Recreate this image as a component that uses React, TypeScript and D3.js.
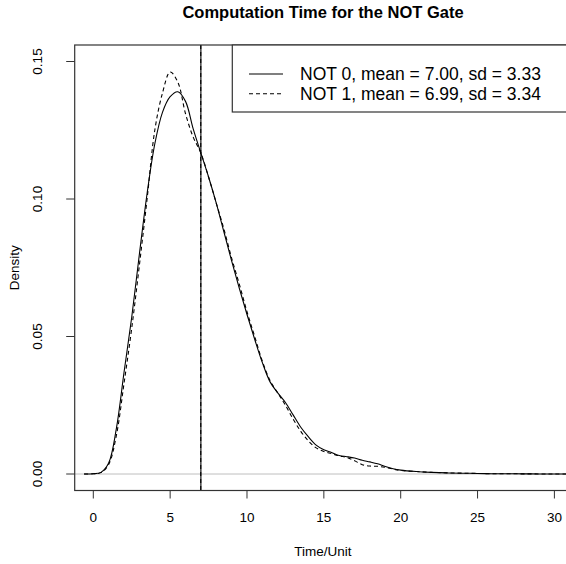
import React, { useRef, useEffect } from "react";
import { select, scaleLinear, line, curveCatmullRom } from "d3";

// density estimates
const timeGrid = [-0.6, 0, 0.5, 1, 1.5, 2, 2.5, 3, 3.5, 4, 4.5, 5, 5.5, 6, 6.5, 7, 7.5, 8, 8.5, 9, 9.5, 10, 10.5, 11, 11.5, 12, 12.5, 13, 13.5, 14, 14.5, 15, 15.5, 16, 16.5, 17, 17.5, 18, 18.5, 19, 19.5, 20, 21, 22, 23, 24, 25, 26, 27, 28, 29, 30, 31.5];
const not0 = [0, 0.0001, 0.0006, 0.004, 0.0165, 0.037, 0.057, 0.08, 0.102, 0.12, 0.1315, 0.1372, 0.139, 0.1355, 0.1255, 0.1167, 0.108, 0.0985, 0.088, 0.0775, 0.0675, 0.058, 0.049, 0.0405, 0.0335, 0.0295, 0.026, 0.0215, 0.017, 0.0135, 0.0105, 0.0088, 0.0078, 0.0067, 0.0063, 0.0058, 0.005, 0.0044, 0.0037, 0.0027, 0.0019, 0.0014, 0.0009, 0.0006, 0.0004, 0.0003, 0.0002, 0.0001, 0.0001, 0.00005, 0.00002, 0, 0];
const not1 = [0, 0.0001, 0.0005, 0.0035, 0.014, 0.033, 0.053, 0.076, 0.1, 0.125, 0.1385, 0.1462, 0.1425, 0.131, 0.1225, 0.1167, 0.108, 0.0985, 0.089, 0.0785, 0.069, 0.059, 0.05, 0.041, 0.034, 0.0295, 0.025, 0.02, 0.0155, 0.012, 0.0095, 0.0082, 0.0074, 0.0066, 0.006, 0.0048, 0.0034, 0.0029, 0.0028, 0.0024, 0.0018, 0.0013, 0.0009, 0.0006, 0.0004, 0.0003, 0.0002, 0.0001, 0.0001, 0.00005, 0.00002, 0, 0];
const means = [7.0, 6.99];
const legendLabels = ["NOT 0, mean = 7.00, sd = 3.33", "NOT 1, mean = 6.99, sd = 3.34"];
const xTicks = [0, 5, 10, 15, 20, 25, 30];
const yTicks = [0, 0.05, 0.1, 0.15];

const font = "'Liberation Sans', Arial, Helvetica, sans-serif";

function App() {
  const svgRef = useRef(null);

  useEffect(() => {
    const svg = select(svgRef.current);
    svg.selectAll("*").remove();

    const left = 74.7, right = 571, top = 45, bottom = 490.5;
    const xscale = scaleLinear().domain([-1.21, 31.08]).range([left, right]);
    const yscale = scaleLinear().domain([-0.006, 0.156]).range([bottom, top]);

    svg.append("text")
      .attr("x", 323).attr("y", 18)
      .attr("text-anchor", "middle")
      .attr("font-family", font).attr("font-weight", "bold").attr("font-size", 16.5)
      .text("Computation Time for the NOT Gate");

    // zero line
    svg.append("line")
      .attr("x1", left).attr("x2", right)
      .attr("y1", yscale(0)).attr("y2", yscale(0))
      .attr("stroke", "#bebebe").attr("stroke-width", 1);

    const dens = line<number>()
      .x((d, i) => xscale(timeGrid[i]))
      .y(d => yscale(d))
      .curve(curveCatmullRom);

    [not0, not1].forEach((s, k) => {
      svg.append("path")
        .attr("d", dens(s))
        .attr("fill", "none")
        .attr("stroke", "black")
        .attr("stroke-width", 1.1)
        .attr("stroke-dasharray", k === 1 ? "4,3" : null);
    });

    means.forEach((m, k) => {
      svg.append("line")
        .attr("x1", xscale(m)).attr("x2", xscale(m))
        .attr("y1", top).attr("y2", bottom)
        .attr("stroke", "black").attr("stroke-width", 1.1)
        .attr("stroke-dasharray", k === 1 ? "4,3" : null);
    });

    // box
    svg.append("rect")
      .attr("x", left).attr("y", top)
      .attr("width", right - left).attr("height", bottom - top)
      .attr("fill", "none").attr("stroke", "#333").attr("stroke-width", 1.2);

    // x axis
    const gx = svg.append("g");
    xTicks.forEach(t => {
      gx.append("line")
        .attr("x1", xscale(t)).attr("x2", xscale(t))
        .attr("y1", bottom).attr("y2", bottom + 8)
        .attr("stroke", "#333");
      gx.append("text")
        .attr("x", xscale(t)).attr("y", 521.5)
        .attr("text-anchor", "middle")
        .attr("font-family", font).attr("font-size", 13.5)
        .text(t);
    });
    svg.append("text")
      .attr("x", 323).attr("y", 556)
      .attr("text-anchor", "middle")
      .attr("font-family", font).attr("font-size", 13.5)
      .text("Time/Unit");

    // y axis
    const gy = svg.append("g");
    yTicks.forEach(t => {
      gy.append("line")
        .attr("x1", left - 8.5).attr("x2", left)
        .attr("y1", yscale(t)).attr("y2", yscale(t))
        .attr("stroke", "#333");
      gy.append("text")
        .attr("transform", `translate(42,${yscale(t)}) rotate(-90)`)
        .attr("text-anchor", "middle")
        .attr("font-family", font).attr("font-size", 13.5)
        .text(t.toFixed(2));
    });
    svg.append("text")
      .attr("transform", `translate(19,${(top + bottom) / 2}) rotate(-90)`)
      .attr("text-anchor", "middle")
      .attr("font-family", font).attr("font-size", 13.5)
      .text("Density");

    // legend
    const lg = svg.append("g");
    lg.append("rect")
      .attr("x", 232.3).attr("y", top)
      .attr("width", right - 232.3).attr("height", 112 - top)
      .attr("fill", "white").attr("stroke", "#333").attr("stroke-width", 1.2);
    legendLabels.forEach((lab, k) => {
      const cy = 74 + k * 19.7;
      lg.append("line")
        .attr("x1", 249).attr("x2", 283)
        .attr("y1", cy).attr("y2", cy)
        .attr("stroke", "black").attr("stroke-width", 1.1)
        .attr("stroke-dasharray", k === 1 ? "4,3" : null);
      lg.append("text")
        .attr("x", 300).attr("y", cy + 6.3)
        .attr("font-family", font).attr("font-size", 17.5)
        .text(lab);
    });
  }, []);

  return (
    <svg ref={svgRef} width={566} height={564} style={{ position: "absolute", left: 0, top: 0, background: "white" }} />
  );
}

export default App;
